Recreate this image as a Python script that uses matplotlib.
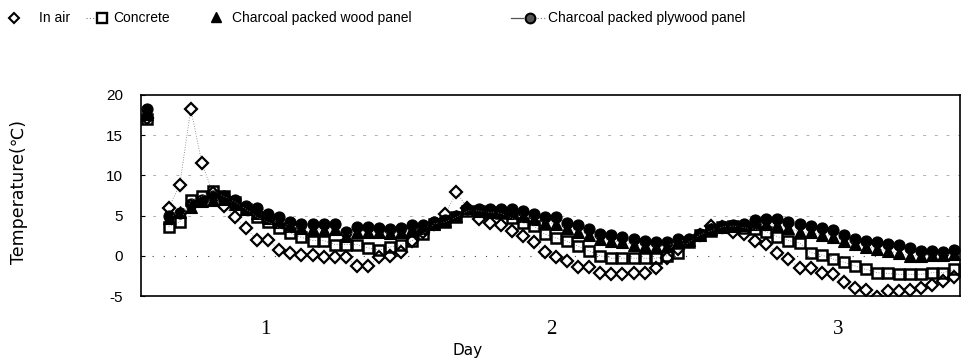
import numpy as np
import matplotlib
matplotlib.use("Agg")
import matplotlib.pyplot as plt
from matplotlib.lines import Line2D

nan = np.nan

# ---- data (hourly readings, 74 points; index 1 missing) ----
in_air = [17.2, nan, 6.0, 8.8, 18.3, 11.5, 7.8, 6.2, 4.8, 3.4,
          2.0, 2.0, 0.7, 0.3, 0.1, 0.1, -0.1, -0.1, -0.1, -1.3,
          -1.3, -0.2, 0.0, 0.5, 1.8, 3.0, 4.0, 5.2, 7.9, 6.0,
          4.6, 4.1, 3.8, 3.1, 2.5, 1.7, 0.5, -0.2, -0.6, -1.4,
          -1.4, -2.1, -2.3, -2.3, -2.2, -2.1, -1.5, -0.3, 0.8, 1.8,
          2.6, 3.7, 3.6, 2.9, 2.7, 1.9, 1.5, 0.4, -0.4, -1.5,
          -1.5, -2.2, -2.3, -3.2, -4.0, -4.3, -5.1, -4.4, -4.4, -4.3,
          -4.0, -3.6, -3.1, -2.6]

concrete = [17.0, nan, 3.6, 4.2, 6.9, 7.4, 8.1, 7.4, 6.7, 5.8,
            4.8, 4.2, 3.4, 2.8, 2.3, 1.9, 1.9, 1.4, 1.4, 1.4,
            1.0, 0.7, 1.1, 1.4, 1.9, 2.7, 4.0, 4.2, 4.8, 5.6,
            5.6, 5.4, 5.3, 4.7, 4.1, 3.7, 2.7, 2.2, 1.8, 1.2,
            0.6, 0.0, -0.3, -0.3, -0.3, -0.3, -0.3, 0.0, 0.4, 1.7,
            2.6, 3.1, 3.6, 3.7, 3.5, 3.3, 3.0, 2.4, 1.9, 1.6,
            0.4, 0.1, -0.4, -0.8, -1.25, -1.7, -2.1, -2.2, -2.3, -2.3,
            -2.3, -2.1, -2.1, -1.7]

wood_panel = [17.6, nan, 4.7, 5.5, 6.1, 6.8, 7.0, 7.1, 6.4, 5.8,
              5.3, 4.7, 4.2, 3.7, 3.4, 3.3, 3.2, 3.3, 2.5, 3.0,
              3.0, 2.9, 2.8, 2.9, 3.3, 3.4, 4.0, 4.3, 4.9, 5.9,
              5.6, 5.5, 5.4, 5.3, 5.0, 4.6, 4.1, 4.0, 3.4, 3.0,
              2.6, 2.1, 1.9, 1.7, 1.4, 1.2, 1.1, 1.2, 1.8, 2.0,
              2.6, 3.3, 3.6, 3.7, 3.8, 4.0, 3.9, 3.8, 3.4, 3.0,
              2.9, 2.6, 2.4, 1.9, 1.5, 1.1, 0.9, 0.6, 0.3, 0.0,
              0.0, 0.1, 0.1, 0.2]

plywood_panel = [18.2, nan, 5.0, 5.3, 6.4, 7.0, 7.4, 7.5, 7.0, 6.2,
                 5.9, 5.2, 4.8, 4.2, 4.0, 4.0, 3.9, 4.0, 2.9, 3.6,
                 3.6, 3.5, 3.3, 3.4, 3.8, 3.8, 4.2, 4.5, 5.0, 5.8,
                 5.8, 5.8, 5.8, 5.8, 5.6, 5.2, 4.8, 4.8, 4.1, 3.8,
                 3.3, 2.7, 2.6, 2.4, 2.1, 1.8, 1.7, 1.7, 2.1, 2.1,
                 2.7, 3.3, 3.7, 3.8, 4.0, 4.5, 4.6, 4.6, 4.2, 3.9,
                 3.7, 3.4, 3.2, 2.6, 2.1, 1.9, 1.7, 1.5, 1.3, 1.0,
                 0.6, 0.6, 0.5, 0.7]

day_labels = ["1", "2", "3"]
day_positions = [10.7, 36.6, 62.5]
y_ticks = [-5, 0, 5, 10, 15, 20]
series_names = ["In air", "Concrete", "Charcoal packed wood panel",
                "Charcoal packed plywood panel"]

x = np.arange(len(in_air))

fig = plt.figure(figsize=(9.63, 3.59), dpi=100)
W, H = 963.0, 359.0
ax = fig.add_axes([141 / W, 63 / H, 819 / W, 201 / H])

# faint grid lines
for g in [5, 10, 15]:
    ax.axhline(g, color="#b0b0b0", lw=0.7, ls=(0, (3, 9)), zorder=0)
ax.axhline(0, color="#444444", lw=0.8, ls=(0, (1, 9)), zorder=0)

line_kw = dict(color="#777777", lw=0.6, ls=(0, (1, 2)))
ax.plot(x, in_air, marker="D", ms=5.8, mfc="white", mec="black", mew=1.6,
        zorder=2, **line_kw)
ax.plot(x, plywood_panel, marker="o", ms=8, mfc="black", mec="black", mew=0.8,
        zorder=3, **line_kw)
ax.plot(x, wood_panel, marker="^", ms=8.5, mfc="black", mec="black", mew=0.8,
        zorder=4, **line_kw)
ax.plot(x, concrete, marker="s", ms=7.8, mfc="none", mec="black", mew=1.8,
        zorder=5, **line_kw)

ax.set_xlim(-0.5, len(in_air) - 0.5)
ax.set_ylim(-5, 20)
ax.set_yticks(y_ticks)
ax.set_yticklabels([str(v) for v in y_ticks], fontsize=11,
                   family="Liberation Sans")
ax.tick_params(axis="y", length=3, direction="in", pad=13, width=0.8)
ax.set_xticks(day_positions)
ax.set_xticklabels(day_labels, fontsize=15, family="Liberation Serif")
ax.tick_params(axis="x", length=0, pad=17)
for s in ax.spines.values():
    s.set_linewidth(1.2)
    s.set_color("black")

fig.text(468 / W, 1 - 350 / H, "Day", ha="center", va="center",
         fontsize=11, family="DejaVu Sans")
fig.text(19 / W, 1 - 192 / H, "Temperature(℃)", rotation=90, ha="center",
         va="center", fontsize=12.5, family=["DejaVu Sans", "Noto Sans CJK KR"])

# legend drawn manually in figure pixels
def fx(px):
    return px / W

def fy(py):
    return 1 - py / H

ly = 18
fig.add_artist(Line2D([fx(14)], [fy(ly)], transform=fig.transFigure,
                      marker="D", ms=5, mfc="white", mec="black", mew=1.5))
fig.add_artist(Line2D([fx(86), fx(97)], [fy(ly), fy(ly)],
                      transform=fig.transFigure, color="#777777", lw=0.8,
                      ls=(0, (1, 2))))
fig.add_artist(Line2D([fx(102)], [fy(ly)], transform=fig.transFigure,
                      marker="s", ms=6.5, mfc="none", mec="black", mew=1.7))
fig.add_artist(Line2D([fx(216)], [fy(ly - 1)], transform=fig.transFigure,
                      marker="^", ms=7, mfc="black", mec="black"))
fig.add_artist(Line2D([fx(511), fx(523)], [fy(ly), fy(ly)],
                      transform=fig.transFigure, color="#555555", lw=0.9))
fig.add_artist(Line2D([fx(537), fx(546)], [fy(ly), fy(ly)],
                      transform=fig.transFigure, color="#777777", lw=0.8,
                      ls=(0, (1, 2))))
fig.add_artist(Line2D([fx(530)], [fy(ly)], transform=fig.transFigure,
                      marker="o", ms=7, mfc="#555555", mec="black", mew=1.5))

for name, tx in zip(series_names, [39, 113, 232, 548]):
    fig.text(fx(tx), fy(ly), name, ha="left", va="center", fontsize=10,
             family="Liberation Sans")

fig.savefig("out.png", dpi=100)
